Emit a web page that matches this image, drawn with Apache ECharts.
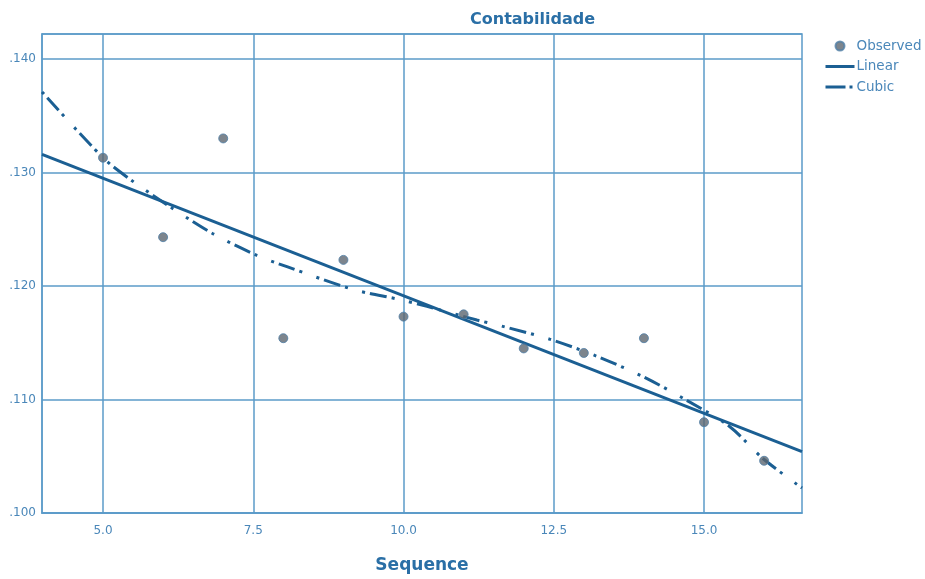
<!DOCTYPE html>
<html><head><meta charset="utf-8">
<script src="https://cdn.jsdelivr.net/npm/echarts@6/dist/echarts.min.js"></script>
<style>html,body{margin:0;padding:0;background:#fff}#c{width:925px;height:579px}</style>
</head><body><div id="c"></div>
<script>
const obsX = [5, 6, 7, 8, 9, 10, 11, 12, 13, 14, 15, 16];
const obsY = [0.1313, 0.1243, 0.1330, 0.1154, 0.1223, 0.1173, 0.1175, 0.1145, 0.1141, 0.1154, 0.1080, 0.1046];
const linX = [3.985, 16.63];
const linY = [0.1316, 0.1054];
const cubX = [3.985, 5.0, 5.45, 6.11, 6.83, 7.56, 8.06, 9.16, 9.94, 10.39, 11.22, 11.61, 12.44, 13.22, 13.99, 14.72, 15.43, 15.98, 16.63];
const cubY = [0.1371, 0.1313, 0.1294, 0.1270, 0.1246, 0.1227, 0.1217, 0.1197, 0.1188, 0.1182, 0.1170, 0.1165, 0.1153, 0.1138, 0.1120, 0.1099, 0.1076, 0.1048, 0.1022];
const xTicks = [5.0, 7.5, 10.0, 12.5, 15.0];
const yTicks = [0.100, 0.110, 0.120, 0.130, 0.140];

const zip = (a, b) => a.map((v, i) => [v, b[i]]);
const lineColor = '#1b5f93';
const gridColor = '#5b9bc9';
const textColor = '#4a87b9';
const font = 'DejaVu Sans, Verdana, sans-serif';

const chart = echarts.init(document.getElementById('c'));
chart.setOption({
  animation: false,
  title: {
    text: 'Contabilidade', left: 465, top: 7,
    textStyle: { fontFamily: font, fontWeight: 'bold', fontSize: 16, color: '#2a6fa6' }
  },
  legend: {
    orient: 'vertical', left: 819, top: 34, itemGap: 6.5, itemWidth: 29, itemHeight: 9,
    textStyle: { fontFamily: font, fontSize: 13.5, color: textColor, padding: [0, 0, 0, -3] },
    data: [
      { name: 'Observed', icon: 'circle', itemStyle: { color: '#5c6670' } },
      { name: 'Linear', itemStyle: { opacity: 0 }, lineStyle: { width: 3, color: lineColor } },
      { name: 'Cubic', itemStyle: { opacity: 0 }, lineStyle: { width: 3, color: lineColor, type: [20, 4, 3, 10] } }
    ]
  },
  grid: {
    left: 42, right: 123, top: 34, bottom: 62, show: true,
    borderColor: gridColor, borderWidth: 1.5, backgroundColor: 'transparent'
  },
  xAxis: {
    type: 'value', min: 3.985, max: 16.63,
    name: 'Sequence', nameLocation: 'middle', nameGap: 44,
    nameTextStyle: { fontFamily: font, fontWeight: 'bold', fontSize: 17, color: '#2a6fa6' },
    axisLine: { show: true, lineStyle: { color: gridColor, width: 1.5 } },
    axisTick: { show: false, customValues: xTicks },
    axisLabel: { customValues: xTicks, color: textColor, fontSize: 12, margin: 12,
      fontFamily: font, formatter: v => v.toFixed(1) },
    splitLine: { show: true, lineStyle: { color: gridColor, width: 1.5 } }
  },
  yAxis: {
    type: 'value', min: 0.100, max: 0.1422, interval: 0.01,
    axisLine: { show: true, lineStyle: { color: gridColor, width: 1.5 } },
    axisTick: { show: false },
    axisLabel: { color: textColor, fontSize: 12, margin: 6, fontFamily: font,
      showMaxLabel: false,
      formatter: v => yTicks.some(t => Math.abs(t - v) < 1e-6) ? v.toFixed(3).replace(/^0/, '') : '' },
    splitLine: { show: true, lineStyle: { color: gridColor, width: 1.5 } }
  },
  series: [
    {
      name: 'Observed', type: 'scatter', data: zip(obsX, obsY), symbolSize: 9, z: 5,
      itemStyle: { color: '#5c6670', borderColor: '#4f7ea6', borderWidth: 1 }
    },
    {
      name: 'Linear', type: 'line', data: zip(linX, linY), showSymbol: false, symbol: 'none',
      lineStyle: { color: lineColor, width: 3 }, itemStyle: { color: lineColor }
    },
    {
      name: 'Cubic', type: 'line', data: zip(cubX, cubY), showSymbol: false, symbol: 'none', smooth: 0.3,
      lineStyle: { color: lineColor, width: 3, type: [3, 5, 17, 5, 3, 15] }, itemStyle: { color: lineColor }
    }
  ]
});
</script></body></html>
